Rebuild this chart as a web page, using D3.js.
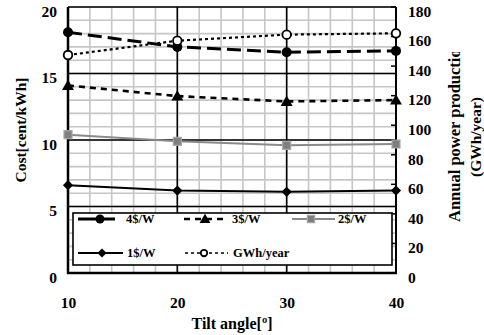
<!DOCTYPE html>
<html><head><meta charset="utf-8">
<script src="https://cdn.jsdelivr.net/npm/d3@7"></script>
<style>
body{margin:0;background:#fff;}
svg{display:block;font-family:"Liberation Serif","Times New Roman",serif;font-weight:bold;}
</style></head>
<body>
<svg id="c" width="484" height="335"></svg>
<script>
const angles = [10, 20, 30, 40];
const cost4 = [18.1, 17.0, 16.6, 16.7];
const cost3 = [14.1, 13.3, 12.9, 13.0];
const cost2 = [10.4, 9.9, 9.6, 9.7];
const cost1 = [6.6, 6.2, 6.1, 6.2];
const gwh = [147.5, 157.2, 161.3, 162.2];
const xTicks = [10, 20, 30, 40];
const yLeftTicks = [0, 5, 10, 15, 20];
const yRightTicks = [0, 20, 40, 60, 80, 100, 120, 140, 160, 180];
const legendLabels = ["4$/W", "3$/W", "2$/W", "1$/W", "GWh/year"];

const svg = d3.select("#c");
const L = 68, R = 396, T = 7, B = 273;
const x = d3.scaleLinear([10, 40], [L, R]);
const yL = d3.scaleLinear([0, 20], [B, T]);
const yR = d3.scaleLinear([0, 180], [B, T]);

// minor grid
const g = svg.append("g");
g.selectAll(".vx").data(d3.range(10, 41, 2)).join("line")
  .attr("x1", d => x(d)).attr("x2", d => x(d)).attr("y1", T).attr("y2", B)
  .attr("stroke", "#c6c6c6").attr("stroke-width", 1.6);
g.selectAll(".hy").data(d3.range(0, 21, 1)).join("line")
  .attr("x1", L).attr("x2", R).attr("y1", d => yL(d)).attr("y2", d => yL(d))
  .attr("stroke", "#c6c6c6").attr("stroke-width", 1.6);
// major grid
g.selectAll(".mx").data(xTicks).join("line")
  .attr("x1", d => x(d)).attr("x2", d => x(d)).attr("y1", T).attr("y2", B)
  .attr("stroke", "#000").attr("stroke-width", 1.6);
g.selectAll(".my").data(yLeftTicks).join("line")
  .attr("x1", L).attr("x2", R).attr("y1", d => yL(d)).attr("y2", d => yL(d))
  .attr("stroke", "#000").attr("stroke-width", 1.6);

// axes lines
svg.append("line").attr("x1", L).attr("x2", L).attr("y1", T).attr("y2", B + 1).attr("stroke", "#000").attr("stroke-width", 2.5);
svg.append("line").attr("x1", L - 1).attr("x2", R + 1).attr("y1", B).attr("y2", B).attr("stroke", "#000").attr("stroke-width", 2.5);
svg.append("line").attr("x1", R).attr("x2", R).attr("y1", T).attr("y2", B + 1).attr("stroke", "#000").attr("stroke-width", 2);
// right inward ticks
svg.selectAll(".rt").data(yRightTicks).join("line")
  .attr("x1", R - 5).attr("x2", R).attr("y1", d => yR(d)).attr("y2", d => yR(d))
  .attr("stroke", "#000").attr("stroke-width", 1.5);

// tick labels via d3 axes
const axL = svg.append("g").attr("transform", `translate(${L},0)`)
  .call(d3.axisLeft(yL).tickValues(yLeftTicks).tickSize(0).tickPadding(11));
const axR = svg.append("g").attr("transform", `translate(${R},0)`)
  .call(d3.axisRight(yR).tickValues(yRightTicks).tickSize(0).tickPadding(12));
const axB = svg.append("g").attr("transform", `translate(0,${B})`)
  .call(d3.axisBottom(x).tickValues(xTicks).tickSize(0).tickPadding(24));
[axL, axR, axB].forEach(a => {
  a.select(".domain").remove();
  a.selectAll("text").attr("font-family", '"Liberation Serif", serif').attr("font-weight", "bold")
    .attr("font-size", 15.5).attr("fill", "#000");
});
axL.selectAll("text").attr("dy", "0.6em");
axR.selectAll("text").attr("dy", "0.6em");

// series
const series = [
  {vals: cost4, y: yL, color: "#000", w: 3, dash: "14,6", sym: "circle"},
  {vals: cost3, y: yL, color: "#000", w: 2.6, dash: "6,5", sym: "triangle"},
  {vals: cost2, y: yL, color: "#8a8a8a", w: 2, dash: null, sym: "square"},
  {vals: cost1, y: yL, color: "#000", w: 2, dash: null, sym: "diamond"},
  {vals: gwh, y: yR, color: "#000", w: 2.2, dash: "3,3", sym: "open"}
];
function drawMarker(sel, sym, cx, cy, scale) {
  const s = scale || 1;
  if (sym === "circle") {
    sel.append("circle").attr("cx", cx).attr("cy", cy).attr("r", 5 * s).attr("fill", "#000");
  } else if (sym === "open") {
    sel.append("circle").attr("cx", cx).attr("cy", cy).attr("r", 4.3 * s).attr("fill", "#fff").attr("stroke", "#000").attr("stroke-width", 1.8);
  } else if (sym === "triangle") {
    sel.append("path").attr("d", d3.symbol(d3.symbolTriangle, 62 * s * s)())
      .attr("transform", `translate(${cx},${cy + 1})`).attr("fill", "#000");
  } else if (sym === "square") {
    sel.append("path").attr("d", d3.symbol(d3.symbolSquare, 64 * s * s)())
      .attr("transform", `translate(${cx},${cy})`).attr("fill", "#7f7f7f").attr("stroke", "#a8a8a8").attr("stroke-width", 1.2);
  } else if (sym === "diamond") {
    sel.append("path").attr("d", d3.symbol(d3.symbolSquare, 52 * s * s)())
      .attr("transform", `translate(${cx},${cy}) rotate(45)`).attr("fill", "#000");
  }
}
const plot = svg.append("g");
series.forEach(sr => {
  const line = d3.line().x((d, i) => x(angles[i])).y(d => sr.y(d));
  plot.append("path").attr("d", line(sr.vals)).attr("fill", "none")
    .attr("stroke", sr.color).attr("stroke-width", sr.w)
    .attr("stroke-dasharray", sr.dash);
});
series.forEach(sr => {
  sr.vals.forEach((v, i) => drawMarker(plot, sr.sym, x(angles[i]), sr.y(v)));
});

// legend
const lg = svg.append("g");
lg.append("rect").attr("x", 73).attr("y", 213).attr("width", 319).attr("height", 52)
  .attr("fill", "#fff").attr("stroke", "#000").attr("stroke-width", 1.6);
const legPos = [
  {x1: 78, x2: 115, mx: 100, tx: 126, y: 219},
  {x1: 184, x2: 227, mx: 205, tx: 232, y: 219},
  {x1: 292, x2: 335, mx: 311, tx: 338, y: 219},
  {x1: 78, x2: 123, mx: 102, tx: 127, y: 253},
  {x1: 185, x2: 228, mx: 204, tx: 233, y: 253}
];
series.forEach((sr, i) => {
  const p = legPos[i];
  lg.append("line").attr("x1", p.x1).attr("x2", p.x2).attr("y1", p.y).attr("y2", p.y)
    .attr("stroke", sr.color).attr("stroke-width", i === 4 ? 1.3 : sr.w)
    .attr("stroke-dasharray", i === 0 ? null : (i === 4 ? "3,3" : sr.dash));
  drawMarker(lg, sr.sym, p.mx, p.y, i === 4 ? 0.75 : 0.9);
  lg.append("text").attr("x", p.tx).attr("y", p.y).attr("dy", "0.35em")
    .attr("font-size", 12.5).text(legendLabels[i]);
});

// titles
svg.append("text").attr("x", 232).attr("y", 323).attr("dy", "0.35em").attr("text-anchor", "middle")
  .attr("font-size", 16).text("Tilt angle[º]");
svg.append("text").attr("transform", "translate(21,130) rotate(-90)").attr("dy", "0.35em")
  .attr("text-anchor", "middle").attr("font-size", 15.5).text("Cost[cent/kWh]");
svg.append("clipPath").attr("id", "rclip").append("rect").attr("x", 430).attr("y", 52).attr("width", 54).attr("height", 283);
const rt = svg.append("g").attr("clip-path", "url(#rclip)");
rt.append("text").attr("transform", "translate(454,222) rotate(-90)").attr("dy", "0.35em")
  .attr("text-anchor", "start").attr("font-size", 16.5).text("Annual power production");
rt.append("text").attr("transform", "translate(476,137) rotate(-90)").attr("dy", "0.35em")
  .attr("text-anchor", "middle").attr("font-size", 15.5).text("(GWh/year)");
</script>
</body></html>
